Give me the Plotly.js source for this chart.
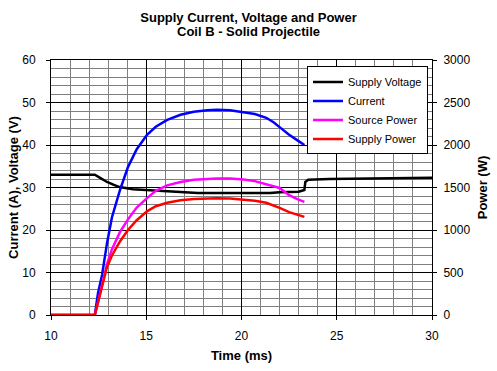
<!DOCTYPE html>
<html>
<head>
<meta charset="utf-8">
<script src="https://cdn.plot.ly/plotly-3.0.1.min.js"></script>
<style>
html,body{margin:0;padding:0;background:#fff;}
#chart{width:497px;height:371px;}
</style>
</head>
<body>
<div id="chart"></div>
<script>
// Time (ms) for the pulse-phase series
var pulseTime = [10, 12.3, 12.47, 12.68, 12.94, 13.2, 13.62, 14.04, 14.5, 15.04, 15.5, 16.1, 16.8, 17.5, 18.2, 18.7, 19.4, 20.1, 20.7, 21.3, 21.7, 22.0, 22.5, 22.9, 23.3];
// Current (A)
var current = [0, 0, 5.2, 9.4, 16.9, 23, 29.4, 34.8, 39, 42.4, 44.3, 45.9, 47.1, 47.8, 48.2, 48.3, 48.2, 47.8, 47.3, 46.4, 45.3, 44.2, 42.4, 41.2, 40.0];
// Source Power (W)
var sourcePower = [0, 0, 150, 350, 600, 775, 975, 1125, 1265, 1375, 1460, 1525, 1565, 1590, 1600, 1605, 1605, 1595, 1575, 1540, 1520, 1495, 1410, 1365, 1330];
// Supply Power (W)
var supplyPower = [0, 0, 150, 325, 565, 700, 865, 1000, 1115, 1220, 1280, 1320, 1350, 1365, 1370, 1375, 1370, 1360, 1345, 1320, 1290, 1260, 1210, 1180, 1155];
// Supply Voltage (V)
var voltageTime = [10, 12.3, 12.6, 12.94, 13.3, 13.6, 14.3, 15.0, 16.0, 16.8, 17.7, 21.5, 22.0, 23.0, 23.3, 23.35, 23.5, 24.6, 26, 28.2, 30];
var voltage = [33.0, 33.0, 32.2, 31.3, 30.6, 30.1, 29.6, 29.4, 29.1, 28.9, 28.7, 28.7, 28.9, 29.0, 29.4, 31.3, 31.8, 32.0, 32.1, 32.2, 32.3];

var titleLine1 = 'Supply Current, Voltage and Power';
var titleLine2 = 'Coil B - Solid Projectile';
var seriesNames = ['Supply Voltage', 'Current', 'Source Power', 'Supply Power'];
var seriesColors = ['#000000', '#0000FF', '#FF00FF', '#FF0000'];

var lw = 2.5;
var traces = [
  {x: voltageTime, y: voltage, name: seriesNames[0], yaxis: 'y', mode: 'lines', line: {color: seriesColors[0], width: lw}},
  {x: pulseTime, y: current, name: seriesNames[1], yaxis: 'y', mode: 'lines', line: {color: seriesColors[1], width: lw}},
  {x: pulseTime, y: sourcePower, name: seriesNames[2], yaxis: 'y2', mode: 'lines', line: {color: seriesColors[2], width: lw}},
  {x: pulseTime, y: supplyPower, name: seriesNames[3], yaxis: 'y2', mode: 'lines', line: {color: seriesColors[3], width: lw}}
];

var fam = '"Liberation Sans", Arial, sans-serif';
var layout = {
  width: 497, height: 371,
  margin: {l: 51, r: 65, t: 60, b: 56},
  paper_bgcolor: '#ffffff',
  plot_bgcolor: '#ffffff',
  font: {family: fam, size: 12, color: '#000'},
  showlegend: true,
  title: {
    text: '<b>' + titleLine1 + '</b>',
    font: {family: fam, size: 13, color: '#000'},
    x: 0.5, xref: 'container', xanchor: 'center',
    y: 1 - 17/371, yref: 'container', yanchor: 'middle'
  },
  annotations: [{
    text: '<b>' + titleLine2 + '</b>',
    font: {family: fam, size: 13, color: '#000'},
    showarrow: false,
    xref: 'paper', yref: 'paper',
    x: (248.5 - 51) / 381, xanchor: 'center',
    y: 1 + (60 - 32) / 255, yanchor: 'middle'
  }],
  xaxis: {
    range: [10, 30], dtick: 5, tick0: 10,
    showgrid: true, gridcolor: '#000000', gridwidth: 1,
    minor: {dtick: 1, showgrid: true, gridcolor: '#808080', gridwidth: 1},
    showline: true, linecolor: '#000', linewidth: 1, mirror: true,
    ticks: 'outside', ticklen: 4, tickcolor: '#000',
    ticklabelstandoff: 6,
    zeroline: false,
    tickfont: {family: fam, size: 12},
    title: {text: '<b>Time (ms)</b>', font: {family: fam, size: 13}, standoff: 8}
  },
  yaxis: {
    range: [0, 60], dtick: 10,
    showgrid: true, gridcolor: '#000000', gridwidth: 1,
    minor: {dtick: 2, showgrid: true, gridcolor: '#808080', gridwidth: 1},
    showline: true, linecolor: '#000', linewidth: 1, mirror: true,
    ticks: 'outside', ticklen: 4, tickcolor: '#000',
    ticklabelstandoff: 8,
    zeroline: false,
    tickfont: {family: fam, size: 12},
    title: {text: '<b>Current (A), Voltage (V)</b>', font: {family: fam, size: 13}, standoff: 0}
  },
  yaxis2: {
    range: [0, 3000], dtick: 500,
    overlaying: 'y', side: 'right',
    showgrid: false, zeroline: false,
    showline: true, linecolor: '#000', linewidth: 1,
    ticks: 'outside', ticklen: 4, tickcolor: '#000',
    ticklabelstandoff: 4,
    tickfont: {family: fam, size: 12},
    title: {text: '<b>Power (W)</b>', font: {family: fam, size: 13}, standoff: 8}
  },
  legend: {
    x: 0.9895, xanchor: 'right', y: 0.975, yanchor: 'top',
    bgcolor: '#ffffff', bordercolor: '#000', borderwidth: 1,
    font: {family: fam, size: 11, color: '#000'},
    itemwidth: 30, tracegroupgap: 0
  }
};

Plotly.newPlot('chart', traces, layout, {displayModeBar: false, staticPlot: true});
</script>
</body>
</html>
